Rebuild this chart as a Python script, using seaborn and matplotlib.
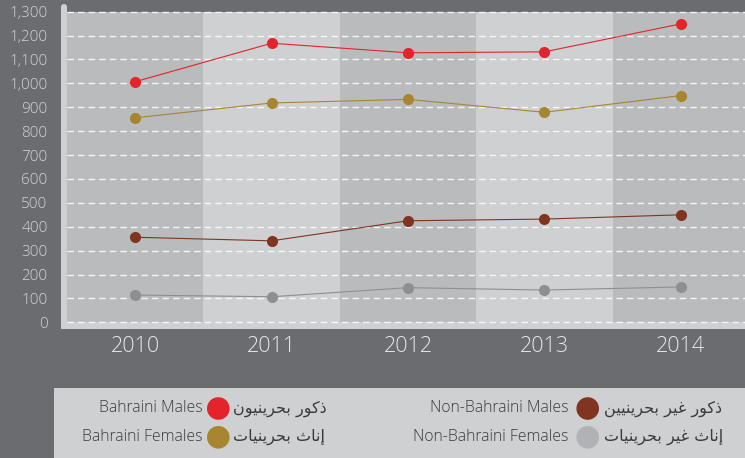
import matplotlib
matplotlib.use("Agg")
import matplotlib.pyplot as plt
from matplotlib.patches import Rectangle, Circle, FancyBboxPatch
import pandas as pd
import seaborn as sns

# data
years = [2010, 2011, 2012, 2013, 2014]
bahraini_males = [1007, 1168, 1128, 1132, 1249]
bahraini_females = [856, 918, 933, 879, 949]
non_bahraini_males = [356, 341, 425, 432, 450]
non_bahraini_females = [114, 107, 145, 135, 148]

series_en = ["Bahraini Males", "Bahraini Females", "Non-Bahraini Males", "Non-Bahraini Females"]
series_ar = ["ذكور بحرينيون", "إناث بحرينيات", "ذكور غير بحرينيين", "إناث غير بحرينيات"]
yticks = list(range(0, 1301, 100))

line_colors = ["#e3242b", "#a88630", "#7f3520", "#8e8f92"]
legend_colors = ["#e3242b", "#a88630", "#7f3520", "#b1b2b5"]

BG = "#6b6c70"
BAND_DARK = "#babbbd"
BAND_LIGHT = "#cfd0d2"
TEXT_DARK = "#3a3a3c"

sns.set_style("white")
plt.rcParams['font.family'] = ['Open Sans', 'DejaVu Sans']

# matplotlib does no arabic shaping, so pick presentation forms by hand
FORMS = {
    'ا': ('\uFE8D', '\uFE8E', None, None),
    'إ': ('\uFE87', '\uFE88', None, None),
    'ب': ('\uFE8F', '\uFE90', '\uFE91', '\uFE92'),
    'ت': ('\uFE95', '\uFE96', '\uFE97', '\uFE98'),
    'ث': ('\uFE99', '\uFE9A', '\uFE9B', '\uFE9C'),
    'ح': ('\uFEA1', '\uFEA2', '\uFEA3', '\uFEA4'),
    'ذ': ('\uFEAB', '\uFEAC', None, None),
    'ر': ('\uFEAD', '\uFEAE', None, None),
    'غ': ('\uFECD', '\uFECE', '\uFECF', '\uFED0'),
    'ك': ('\uFED9', '\uFEDA', '\uFEDB', '\uFEDC'),
    'ن': ('\uFEE5', '\uFEE6', '\uFEE7', '\uFEE8'),
    'و': ('\uFEED', '\uFEEE', None, None),
    'ي': ('\uFEF1', '\uFEF2', '\uFEF3', '\uFEF4'),
}


def shape_arabic(text):
    out = []
    for i, ch in enumerate(text):
        if ch not in FORMS:
            out.append(ch)
            continue
        prev = text[i - 1] if i > 0 else None
        nxt = text[i + 1] if i + 1 < len(text) else None
        joins_prev = prev in FORMS and FORMS[prev][2] is not None
        joins_next = FORMS[ch][2] is not None and nxt in FORMS
        iso, fin, ini, med = FORMS[ch]
        if joins_prev and joins_next:
            out.append(med)
        elif joins_prev:
            out.append(fin)
        elif joins_next:
            out.append(ini)
        else:
            out.append(iso)
    return "".join(out)[::-1]


df = pd.DataFrame({
    "year": years * 4,
    "value": bahraini_males + bahraini_females + non_bahraini_males + non_bahraini_females,
    "series": [s for s in series_en for _ in years],
})

W, H = 745, 458
fig = plt.figure(figsize=(W / 100, H / 100), dpi=100)
fig.patch.set_facecolor(BG)

# pixel-space axes for the frame bars and the legend box
deco = fig.add_axes([0, 0, 1, 1], zorder=0)
deco.set_xlim(0, W)
deco.set_ylim(H, 0)
deco.axis('off')
deco.add_patch(FancyBboxPatch((61, 4), 6, 325, boxstyle="round,pad=0,rounding_size=3",
                              fc=BAND_LIGHT, ec='none'))
deco.add_patch(Rectangle((61, 322), W - 61, 7, fc=BAND_LIGHT, ec='none'))

ax = fig.add_axes([67 / W, (H - 322.3) / H, 682 / W, 310.6 / H], zorder=1)
ax.set_facecolor('none')

for i, yr in enumerate(years):
    ax.axvspan(yr - 0.5, yr + 0.5, color=BAND_DARK if i % 2 == 0 else BAND_LIGHT, lw=0, zorder=0)

ax.hlines(yticks, years[0] - 0.5, years[-1] + 0.5, colors='white', alpha=0.85,
          linewidth=1, linestyles=(0, (4.7, 2.9)), clip_on=False, zorder=1)

sns.lineplot(data=df, x="year", y="value", hue="series", hue_order=series_en,
             palette=line_colors, marker='o', markersize=8, markeredgewidth=0,
             linewidth=0.8, legend=False, ax=ax, zorder=3)

ax.set_xlim(years[0] - 0.5, years[-1] + 0.5)
ax.set_ylim(0, 1300)
ax.set_xticks(years)
ax.set_xticklabels([str(y) for y in years], fontsize=15.5, color="#e6e6e8", fontweight='light')
ax.set_yticks(yticks)
ax.set_yticklabels([f"{v:,}" for v in yticks], fontsize=11, color="#d2d3d5", fontweight='light')
ax.tick_params(axis='y', length=0, pad=14)
ax.tick_params(axis='x', length=0, pad=10)
ax.set_xlabel("")
ax.set_ylabel("")
for s in ax.spines.values():
    s.set_visible(False)
ax.grid(False)

# legend box
deco.add_patch(Rectangle((54, 388), W - 54, H - 388, fc=BAND_LIGHT, ec='none'))
rows = [408.5, 437.3]
cols = [(203, 218.3, 233), (568, 587.7, 604)]
for k, (en, ar, c) in enumerate(zip(series_en, series_ar, legend_colors)):
    col = cols[k // 2]
    y = rows[k % 2]
    deco.text(col[0], y, en, ha='right', va='center', fontsize=11.3, color=TEXT_DARK,
              fontweight='light')
    deco.add_patch(Circle((col[1], y), 11.3, fc=c, ec='none'))
    deco.text(col[2], y, shape_arabic(ar), ha='left', va='center', fontsize=11.5, color=TEXT_DARK,
              family=['DejaVu Sans'])

fig.savefig("out.png", dpi=100, facecolor=BG)
